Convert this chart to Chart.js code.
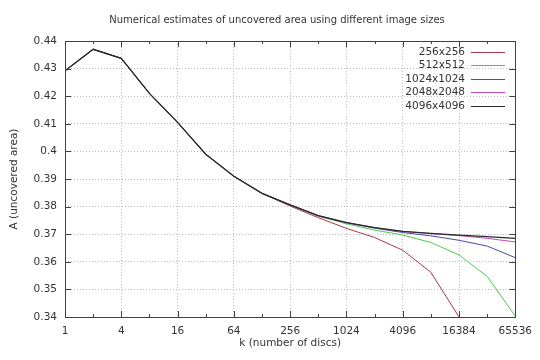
<!DOCTYPE html>
<html>
<head>
<meta charset="utf-8">
<script src="https://cdn.jsdelivr.net/npm/chart.js@4.4.0/dist/chart.umd.min.js"></script>
<style>
  html, body { margin: 0; padding: 0; background: #fff; }
  #wrap { width: 540px; height: 360px; }
</style>
</head>
<body>
<div id="wrap"><canvas id="chart" width="540" height="360"></canvas></div>
<script>
// number of discs (x values)
const kValues = [1, 2, 4, 8, 16, 32, 64, 128, 256, 512, 1024, 2048, 4096, 8192, 16384, 32768, 65536];
const labeledTicks = [1, 4, 16, 64, 256, 1024, 4096, 16384, 65536];
const yTicks = [0.34, 0.35, 0.36, 0.37, 0.38, 0.39, 0.40, 0.41, 0.42, 0.43, 0.44];

// uncovered area per image size
const area256 = [0.4292, 0.4370, 0.4337, 0.4210, 0.4105, 0.3990, 0.3910, 0.3848, 0.3802, 0.3760, 0.3721, 0.3688, 0.3642, 0.3562, 0.3400];
const area512 = [0.4292, 0.4370, 0.4337, 0.4210, 0.4105, 0.3990, 0.3910, 0.3848, 0.3806, 0.3765, 0.3738, 0.3715, 0.3697, 0.3670, 0.3625, 0.3547, 0.3403];
const area1024 = [0.4292, 0.4370, 0.4337, 0.4210, 0.4105, 0.3990, 0.3910, 0.3848, 0.3806, 0.3767, 0.3742, 0.3722, 0.3706, 0.3694, 0.3678, 0.3657, 0.3615];
const area2048 = [0.4292, 0.4370, 0.4337, 0.4210, 0.4105, 0.3990, 0.3910, 0.3848, 0.3806, 0.3767, 0.3742, 0.3724, 0.3710, 0.3702, 0.3695, 0.3685, 0.3672];
const area4096 = [0.4292, 0.4370, 0.4337, 0.4210, 0.4105, 0.3990, 0.3910, 0.3848, 0.3806, 0.3767, 0.3742, 0.3724, 0.3710, 0.3703, 0.3697, 0.3691, 0.3685];

const seriesLabels = ['256x256', '512x512', '1024x1024', '2048x2048', '4096x4096'];
const seriesColors = ['#a8384a', '#4cc84c', '#4c4ca0', '#c04cc0', '#2a2a2a'];
const seriesData = [area256, area512, area1024, area2048, area4096];

const chartTitle = 'Numerical estimates of uncovered area using different image sizes';
const FONT = 'DejaVu Sans';
const TEXT = '#333333';

function toPoints(values) {
    return values.map((v, i) => ({ x: kValues[i], y: v }));
}

// title, centred like the original
const titlePlugin = {
    id: 'gnuTitle',
    afterDraw(chart) {
        const ctx = chart.ctx;
        ctx.save();
        ctx.font = '10px ' + FONT;
        ctx.fillStyle = TEXT;
        ctx.textAlign = 'center';
        ctx.textBaseline = 'middle';
        ctx.fillText(chartTitle, 277, 20);
        ctx.restore();
    }
};

// legend inside the plot, text right-aligned with the line sample after it
const legendPlugin = {
    id: 'gnuLegend',
    afterDraw(chart) {
        const ctx = chart.ctx;
        ctx.save();
        ctx.setLineDash([]);
        ctx.font = '10.5px ' + FONT;
        ctx.textAlign = 'right';
        ctx.textBaseline = 'middle';
        chart.data.datasets.forEach((ds, i) => {
            const y = Math.round(52 + i * 13.4);
            ctx.fillStyle = TEXT;
            ctx.fillText(ds.label, 465, y);
            ctx.strokeStyle = ds.borderColor;
            ctx.lineWidth = 1;
            ctx.beginPath();
            ctx.moveTo(471, y + 0.5);
            ctx.lineTo(505, y + 0.5);
            ctx.stroke();
        });
        ctx.restore();
    }
};

// frame and inward tick marks, mirrored on all four sides
const framePlugin = {
    id: 'gnuFrame',
    afterDatasetsDraw(chart) {
        const { ctx, chartArea: a, scales } = chart;
        ctx.save();
        ctx.setLineDash([]);
        ctx.strokeStyle = '#404040';
        ctx.lineWidth = 1;
        ctx.beginPath();
        kValues.forEach(k => {
            const x = Math.round(scales.x.getPixelForValue(k)) + 0.5;
            const len = labeledTicks.includes(k) ? 6 : 3;
            ctx.moveTo(x, a.bottom); ctx.lineTo(x, a.bottom - len);
            ctx.moveTo(x, a.top); ctx.lineTo(x, a.top + len);
        });
        yTicks.forEach(v => {
            const y = Math.round(scales.y.getPixelForValue(v)) + 0.5;
            ctx.moveTo(a.left, y); ctx.lineTo(a.left + 6, y);
            ctx.moveTo(a.right, y); ctx.lineTo(a.right - 6, y);
        });
        ctx.stroke();
        ctx.strokeRect(Math.round(a.left) + 0.5, Math.round(a.top) + 0.5,
            Math.round(a.right - a.left), Math.round(a.bottom - a.top));
        ctx.restore();
    }
};

const ctx = document.getElementById('chart').getContext('2d');
new Chart(ctx, {
    type: 'line',
    data: {
        datasets: seriesData.map((vals, i) => ({
            label: seriesLabels[i],
            data: toPoints(vals),
            borderColor: seriesColors[i],
            backgroundColor: seriesColors[i],
            borderWidth: i === 4 ? 1.3 : 1,
            pointRadius: 0,
            tension: 0,
            fill: false,
            order: 5 - i
        }))
    },
    options: {
        responsive: false,
        animation: false,
        devicePixelRatio: 1,
        layout: { padding: { top: 41, right: 21, bottom: 10, left: 8 } },
        plugins: {
            legend: { display: false },
            tooltip: { enabled: false },
            title: { display: false }
        },
        scales: {
            x: {
                type: 'logarithmic',
                min: 1,
                max: 65536,
                afterBuildTicks: scale => {
                    scale.ticks = kValues.map(v => ({ value: v }));
                },
                afterFit: scale => { scale.height = 33; },
                ticks: {
                    autoSkip: false,
                    maxRotation: 0,
                    padding: 8,
                    color: TEXT,
                    font: { family: FONT, size: 10.5 },
                    callback: v => labeledTicks.includes(v) ? String(v) : ''
                },
                grid: {
                    drawTicks: false,
                    lineWidth: 1,
                    color: c => {
                        const v = c.tick && c.tick.value;
                        return (labeledTicks.includes(v) && v !== 1 && v !== 65536) ? '#bcbcbc' : 'rgba(0,0,0,0)';
                    }
                },
                border: { display: false, dash: [1, 2] },
                title: {
                    display: true,
                    text: 'k (number of discs)',
                    color: TEXT,
                    font: { family: FONT, size: 10.5 },
                    padding: { top: 4, bottom: 0 }
                }
            },
            y: {
                type: 'linear',
                min: 0.34,
                max: 0.44,
                afterFit: scale => { scale.width = 57; },
                ticks: {
                    stepSize: 0.01,
                    padding: 8,
                    color: TEXT,
                    font: { family: FONT, size: 10.5 },
                    callback: v => String(+v.toFixed(2))
                },
                grid: {
                    drawTicks: false,
                    lineWidth: 1,
                    color: c => {
                        const v = c.tick ? +c.tick.value.toFixed(2) : 0;
                        return (v > 0.34 && v < 0.44) ? '#bcbcbc' : 'rgba(0,0,0,0)';
                    }
                },
                border: { display: false, dash: [1, 2] },
                title: {
                    display: true,
                    text: 'A (uncovered area)',
                    color: TEXT,
                    font: { family: FONT, size: 10.5 },
                    padding: { top: 0, bottom: 4 }
                }
            }
        }
    },
    plugins: [titlePlugin, legendPlugin, framePlugin]
});
</script>
</body>
</html>
